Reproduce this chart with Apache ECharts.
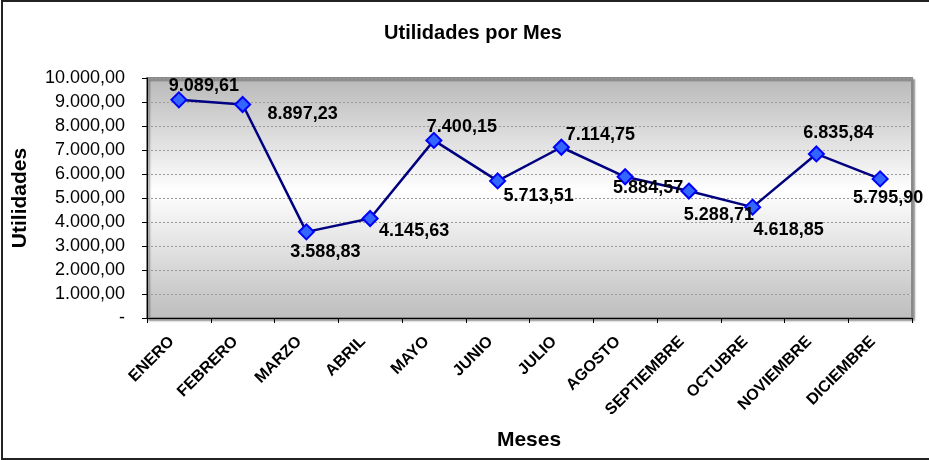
<!DOCTYPE html>
<html>
<head>
<meta charset="utf-8">
<script src="https://cdn.jsdelivr.net/npm/echarts@6/dist/echarts.min.js"></script>
<style>
  html, body { margin: 0; padding: 0; background: #fff; }
  #chart { width: 929px; height: 460px; }
</style>
</head>
<body>
<div id="chart"></div>
<script>
  // datos
  var meses = ['ENERO', 'FEBRERO', 'MARZO', 'ABRIL', 'MAYO', 'JUNIO', 'JULIO',
    'AGOSTO', 'SEPTIEMBRE', 'OCTUBRE', 'NOVIEMBRE', 'DICIEMBRE'];
  var utilidades = [9089.61, 8897.23, 3588.83, 4145.63, 7400.15, 5713.51, 7114.75,
    5884.57, 5288.71, 4618.85, 6835.84, 5795.90];

  // desplazamiento de cada etiqueta respecto al punto (solo estilo)
  var labelOffsets = [[25, -14], [60, 10], [19, 20], [44, 13], [28, -13], [41, 15],
    [39, -12], [23, 11], [30, 24], [36, 23], [22, -21], [8, 19]];

  var FONT = 'Arial, "Liberation Sans", sans-serif';

  function fmt(v) {
    if (v === 0) return '-';
    var parts = v.toFixed(2).split('.');
    var ent = parts[0].replace(/\B(?=(\d{3})+(?!\d))/g, '.');
    return ent + ',' + parts[1];
  }

  var seriesData = utilidades.map(function (v, i) {
    return {
      value: v,
      label: { offset: labelOffsets[i] }
    };
  });

  var myChart = echarts.init(document.getElementById('chart'));
  myChart.setOption({
    animation: false,
    title: {
      text: 'Utilidades por Mes',
      left: 468,
      textAlign: 'center',
      top: 18,
      textStyle: { fontFamily: FONT, fontSize: 20, fontWeight: 'bold', color: '#000' }
    },
    grid: {
      left: 147,
      right: 17,
      top: 78,
      bottom: 142,
      outerBoundsMode: 'none',
      containLabel: false,
      show: true,
      borderColor: '#8a8a8a',
      borderWidth: 2,
      shadowColor: 'rgba(0,0,0,0.35)',
      shadowOffsetX: 2,
      shadowOffsetY: 2,
      shadowBlur: 2,
      backgroundColor: new echarts.graphic.LinearGradient(0, 0, 0, 1, [
        { offset: 0, color: '#b8b8b8' },
        { offset: 0.47, color: '#ffffff' },
        { offset: 1, color: '#bdbdbd' }
      ])
    },
    xAxis: {
      type: 'category',
      data: meses,
      boundaryGap: true,
      axisLine: { lineStyle: { color: '#000', width: 1 } },
      axisTick: { show: true, length: 5, alignWithLabel: false, lineStyle: { color: '#000' } },
      axisLabel: {
        rotate: 45,
        interval: 0,
        margin: 14,
        padding: [0, 10, 0, 0],
        fontFamily: FONT,
        fontSize: 16,
        fontWeight: 'bold',
        color: '#000'
      }
    },
    yAxis: {
      type: 'value',
      min: 0,
      max: 10000,
      interval: 1000,
      axisLine: { show: true, lineStyle: { color: '#000', width: 1 } },
      axisTick: { show: true, length: 5, lineStyle: { color: '#000' } },
      axisLabel: {
        margin: 22,
        fontFamily: FONT,
        fontSize: 18,
        color: '#000',
        formatter: fmt
      },
      splitLine: { show: true, lineStyle: { color: '#9a9a9a', type: [2, 2], width: 1 } }
    },
    series: [{
      name: 'Utilidades',
      type: 'line',
      data: seriesData,
      symbol: 'diamond',
      symbolSize: 15,
      lineStyle: { color: '#000080', width: 2.5 },
      itemStyle: { color: '#3366ff', borderColor: '#0000ff', borderWidth: 2 },
      label: {
        show: true,
        position: 'inside',
        fontFamily: FONT,
        fontSize: 18,
        fontWeight: 'bold',
        color: '#000',
        formatter: function (p) { return fmt(p.value); }
      },
      z: 3
    }],
    graphic: [{
      type: 'rect',
      shape: { x: 2, y: 1, width: 940, height: 458 },
      style: { fill: 'none', stroke: '#222', lineWidth: 2 },
      silent: true
    }, {
      type: 'text',
      x: 20,
      y: 198,
      rotation: Math.PI / 2,
      style: {
        text: 'Utilidades',
        font: 'bold 21px ' + FONT,
        fill: '#000',
        align: 'center',
        verticalAlign: 'middle'
      },
      silent: true
    }, {
      type: 'text',
      x: 529,
      y: 440,
      style: {
        text: 'Meses',
        font: 'bold 21px ' + FONT,
        fill: '#000',
        align: 'center',
        verticalAlign: 'middle'
      },
      silent: true
    }]
  });
</script>
</body>
</html>
